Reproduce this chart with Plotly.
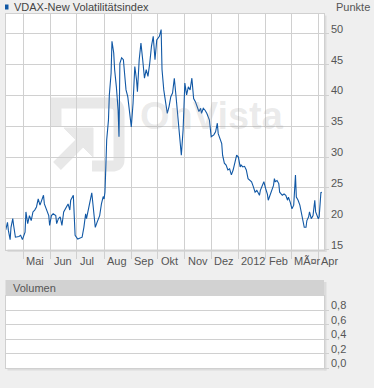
import plotly.graph_objects as go

# ---------------- data ----------------
dates = [
    "2011-04-11", "2011-04-13", "2011-04-14", "2011-04-16", "2011-04-17", "2011-04-19", "2011-04-20",
    "2011-04-22", "2011-04-26", "2011-04-28", "2011-04-30", "2011-05-03", "2011-05-04", "2011-05-06",
    "2011-05-08", "2011-05-10", "2011-05-12", "2011-05-14", "2011-05-16", "2011-05-18", "2011-05-20",
    "2011-05-22", "2011-05-24", "2011-05-25", "2011-05-28", "2011-05-30", "2011-05-31", "2011-06-02",
    "2011-06-04", "2011-06-07", "2011-06-08", "2011-06-10", "2011-06-12", "2011-06-14", "2011-06-16",
    "2011-06-19", "2011-06-21", "2011-06-23", "2011-06-24", "2011-06-27", "2011-06-28", "2011-06-29",
    "2011-07-02", "2011-07-05", "2011-07-07", "2011-07-09", "2011-07-11", "2011-07-12", "2011-07-14",
    "2011-07-16", "2011-07-18", "2011-07-20", "2011-07-22", "2011-07-24", "2011-07-27", "2011-07-29",
    "2011-07-31", "2011-08-01", "2011-08-02", "2011-08-03", "2011-08-04", "2011-08-06", "2011-08-07",
    "2011-08-09", "2011-08-10", "2011-08-12", "2011-08-13", "2011-08-15", "2011-08-17", "2011-08-18",
    "2011-08-19", "2011-08-21", "2011-08-23", "2011-08-25", "2011-08-26", "2011-08-28", "2011-08-30",
    "2011-09-01", "2011-09-03", "2011-09-05", "2011-09-07", "2011-09-08", "2011-09-10", "2011-09-12",
    "2011-09-14", "2011-09-16", "2011-09-18", "2011-09-20", "2011-09-22", "2011-09-24", "2011-09-26",
    "2011-09-27", "2011-09-28", "2011-09-30", "2011-10-03", "2011-10-05", "2011-10-06", "2011-10-08",
    "2011-10-10", "2011-10-12", "2011-10-14", "2011-10-16", "2011-10-18", "2011-10-20", "2011-10-22",
    "2011-10-24", "2011-10-26", "2011-10-28", "2011-10-30", "2011-11-01", "2011-11-03", "2011-11-05",
    "2011-11-07", "2011-11-09", "2011-11-11", "2011-11-13", "2011-11-15", "2011-11-17", "2011-11-19",
    "2011-11-20", "2011-11-22", "2011-11-24", "2011-11-26", "2011-11-29", "2011-12-01", "2011-12-04",
    "2011-12-06", "2011-12-08", "2011-12-09", "2011-12-11", "2011-12-13", "2011-12-14", "2011-12-16",
    "2011-12-18", "2011-12-20", "2011-12-22", "2011-12-24", "2011-12-26", "2011-12-28", "2011-12-30",
    "2012-01-01", "2012-01-03", "2012-01-04", "2012-01-06", "2012-01-08", "2012-01-10", "2012-01-12",
    "2012-01-14", "2012-01-16", "2012-01-18", "2012-01-20", "2012-01-22", "2012-01-23", "2012-01-25",
    "2012-01-26", "2012-01-28", "2012-01-30", "2012-02-01", "2012-02-03", "2012-02-04", "2012-02-06",
    "2012-02-08", "2012-02-10", "2012-02-11", "2012-02-12", "2012-02-14", "2012-02-16", "2012-02-17",
    "2012-02-20", "2012-02-22", "2012-02-24", "2012-02-26", "2012-02-27", "2012-02-29", "2012-03-02",
    "2012-03-04", "2012-03-05", "2012-03-06", "2012-03-07", "2012-03-09", "2012-03-11", "2012-03-13",
    "2012-03-15", "2012-03-16", "2012-03-18", "2012-03-19", "2012-03-21", "2012-03-22", "2012-03-24",
    "2012-03-26", "2012-03-28", "2012-03-29", "2012-04-01", "2012-04-02", "2012-04-04", "2012-04-05",
]
vdax = [
    18.2, 19.4, 18.1, 16.6, 18.6, 20.0, 18.9,
    17.0, 17.1, 17.3, 16.6, 17.8, 21.1, 19.2,
    20.5, 19.7, 21.1, 21.4, 21.9, 23.2, 22.2,
    23.2, 23.8, 22.4, 21.1, 20.5, 18.9, 20.5,
    20.8, 20.5, 19.2, 20.0, 20.3, 18.9, 21.1,
    21.9, 22.4, 21.4, 23.0, 23.8, 20.3, 17.3,
    16.7, 16.9, 17.0, 18.6, 20.8, 20.0, 21.6,
    22.7, 24.2, 21.4, 18.6, 19.4, 20.5, 22.4,
    23.6, 23.2, 24.3, 28.4, 32.8, 36.0, 40.1,
    43.6, 48.8, 46.9, 44.2, 41.4, 37.6, 33.3,
    45.2, 46.1, 45.8, 42.5, 40.9, 39.8, 37.1,
    34.9, 38.7, 44.7, 42.5, 40.6, 45.8, 48.5,
    45.8, 42.8, 44.2, 43.1, 45.2, 48.0, 49.6,
    48.0, 45.8, 49.0, 49.6, 50.7, 44.2, 40.9,
    39.3, 37.1, 38.2, 39.8, 40.4, 42.8, 39.8,
    36.5, 33.3, 30.3, 34.4, 42.0, 40.1, 41.4,
    40.9, 42.8, 39.5, 39.0, 38.2, 37.4, 37.9,
    37.1, 37.9, 37.6, 37.1, 36.0, 33.3, 33.6,
    34.1, 35.5, 33.8, 33.0, 32.2, 30.3, 29.0,
    28.7, 27.9, 28.1, 27.1, 27.9, 29.2, 30.3,
    30.0, 28.4, 28.7, 28.4, 28.5, 27.9, 26.5,
    26.2, 26.0, 25.2, 24.3, 24.6, 24.3, 23.8,
    24.6, 25.4, 26.0, 24.9, 24.0, 23.0, 23.8,
    24.6, 25.4, 26.5, 26.0, 26.2, 25.7, 24.3,
    23.8, 24.0, 23.8, 23.0, 23.5, 22.7, 21.6,
    22.2, 24.6, 27.1, 23.5, 23.0, 22.2, 20.5,
    19.2, 18.6, 18.6, 19.7, 20.3, 21.1, 20.0,
    20.5, 23.0, 21.1, 20.0, 20.3, 24.3, 24.2,
]
month_ticks = ["2011-05-01", "2011-06-01", "2011-07-01", "2011-08-01", "2011-09-01", "2011-10-01",
               "2011-11-01", "2011-12-01", "2012-01-01", "2012-02-01", "2012-03-01", "2012-04-01"]
month_labels = ["Mai", "Jun", "Jul", "Aug", "Sep", "Okt", "Nov", "Dez", "2012", "Feb", "MÃ¤r", "Apr"]
y_ticks = [15, 20, 25, 30, 35, 40, 45, 50]
y_labels = ["15", "20", "25", "30", "35", "40", "45", "50"]
vol_ticks = [0.0, 0.2, 0.4, 0.6, 0.8]
vol_labels = ["0,0", "0,2", "0,4", "0,6", "0,8"]
title_text = "VDAX-New Volatilitätsindex"
unit_text = "Punkte"
volume_text = "Volumen"

# ---------------- layout helpers ----------------
W, H = 374, 388
def px(x):
    return x / W
def py(y):
    return 1 - y / H

PLOT_L, PLOT_R = 5.5, 324.0
MAIN_T, MAIN_B = 13.5, 249.5
VOL_T, VOL_B = 296.0, 368.0
HDR_T = 280.0

LINE = "#1158a5"
GRID = "#d0d0d0"
TXT = "#555555"
FONT = "Liberation Sans, Arial, sans-serif"
x_range = ["2011-04-10 17:30", "2012-04-07 12:00"]

fig = go.Figure()
fig.add_trace(go.Scatter(x=dates, y=vdax, mode="lines",
                         line=dict(color=LINE, width=1.1), xaxis="x", yaxis="y",
                         hoverinfo="skip", showlegend=False))
fig.add_trace(go.Scatter(x=[], y=[], xaxis="x2", yaxis="y2", showlegend=False))

common_x = dict(type="date", range=x_range, domain=[px(PLOT_L), px(PLOT_R)],
                showticklabels=False, zeroline=False, showline=True, mirror=True,
                linecolor=GRID, linewidth=1, fixedrange=True)

fig.update_layout(
    width=W, height=H, autosize=False,
    margin=dict(l=0, r=0, t=0, b=0),
    paper_bgcolor="#efefef", plot_bgcolor="#ffffff",
    font=dict(family=FONT, size=11, color=TXT),
    showlegend=False,
    xaxis=dict(**common_x, anchor="y", showgrid=True, gridcolor=GRID, gridwidth=1,
               tickmode="array", tickvals=month_ticks, ticks="outside", ticklen=8,
               tickcolor=GRID, tickwidth=1),
    yaxis=dict(domain=[py(MAIN_B), py(MAIN_T)], range=[15, 53.3], anchor="x", side="right",
               tickmode="array", tickvals=y_ticks, ticks="outside", ticklen=4, tickcolor=GRID,
               showgrid=True, gridcolor=GRID, gridwidth=1, zeroline=False,
               showline=True, mirror=True, linecolor=GRID,
               showticklabels=False, fixedrange=True),
    xaxis2=dict(**common_x, anchor="y2", showgrid=False, ticks=""),
    yaxis2=dict(domain=[py(VOL_B), py(VOL_T)], range=[0, 1], anchor="x2", side="right",
                tickmode="array", tickvals=vol_ticks,
                ticks="outside", ticklen=4, tickcolor=GRID,
                showgrid=True, gridcolor=GRID, gridwidth=1, zeroline=False,
                showline=True, mirror=True, linecolor=GRID,
                showticklabels=False, fixedrange=True),
)

shapes = []
# drop shadows
SH = "#dcdcdc"
for top, bot in [(MAIN_T, MAIN_B), (HDR_T, VOL_B)]:
    shapes.append(dict(type="rect", xref="paper", yref="paper", layer="below",
                       x0=px(PLOT_R), x1=px(PLOT_R + 2.5), y0=py(bot + 2.5), y1=py(top + 2),
                       fillcolor=SH, line=dict(width=0)))
    shapes.append(dict(type="rect", xref="paper", yref="paper", layer="below",
                       x0=px(PLOT_L + 2), x1=px(PLOT_R + 2.5), y0=py(bot + 2.5), y1=py(bot),
                       fillcolor=SH, line=dict(width=0)))
# volume header bar
shapes.append(dict(type="rect", xref="paper", yref="paper", layer="above",
                   x0=px(PLOT_L), x1=px(PLOT_R), y0=py(VOL_T), y1=py(HDR_T),
                   fillcolor="#d2d2d2", line=dict(width=0)))
# title marker square
shapes.append(dict(type="rect", xref="paper", yref="paper",
                   x0=px(5), x1=px(8.5), y0=py(9.5), y1=py(4.5),
                   fillcolor=LINE, line=dict(width=0)))

# faint watermark logo
WM = "#e8e8e8"
def path(pts, cmd_close=False):
    s = ""
    for c, coords in pts:
        s += c + " " + " ".join(f"{px(coords[k]):.4f},{py(coords[k+1]):.4f}" for k in range(0, len(coords), 2)) + " "
    if cmd_close:
        s += "Z"
    return s
frame = path([("M", (56, 126)), ("L", (56, 103)), ("L", (110, 103)), ("Q", (119, 103, 119, 112)),
              ("L", (119, 160)), ("Q", (119, 166, 112, 166)), ("L", (92, 166))])
shapes.append(dict(type="path", xref="paper", yref="paper", layer="below", path=frame,
                   line=dict(color=WM, width=11)))
arrow = path([("M", (57, 166)), ("L", (84, 139))])
shapes.append(dict(type="path", xref="paper", yref="paper", layer="below", path=arrow,
                   line=dict(color=WM, width=11)))
head = path([("M", (64, 128)), ("L", (93, 128)), ("L", (93, 157))], cmd_close=True)
shapes.append(dict(type="path", xref="paper", yref="paper", layer="below", path=head,
                   fillcolor=WM, line=dict(color=WM, width=1)))
fig.update_layout(shapes=shapes)

ann = []
ann.append(dict(text=title_text, xref="paper", yref="paper", x=px(11.5), y=py(6.5),
                xanchor="left", yanchor="middle", showarrow=False,
                font=dict(family=FONT, size=11, color="#444444")))
ann.append(dict(text=unit_text, xref="paper", yref="paper", x=px(334), y=py(6.5),
                xanchor="left", yanchor="middle", showarrow=False,
                font=dict(family=FONT, size=11, color=TXT)))
ann.append(dict(text=volume_text, xref="paper", yref="paper", x=px(11), y=py(288),
                xanchor="left", yanchor="middle", showarrow=False,
                font=dict(family=FONT, size=11, color=TXT)))
ann.append(dict(text="<b>OnVista</b>", xref="paper", yref="paper", x=px(212), y=py(116),
                xanchor="center", yanchor="middle", showarrow=False,
                font=dict(family=FONT, size=38, color="rgba(150,150,150,0.2)")))
for d, lab in zip(month_ticks, month_labels):
    ann.append(dict(text=lab, xref="x", yref="paper", x=d, y=py(261),
                    xanchor="left", yanchor="middle", xshift=1, showarrow=False,
                    font=dict(family=FONT, size=11, color=TXT)))
# right-hand value labels, sitting just above their grid lines
for v, lab in zip(y_ticks, y_labels):
    ann.append(dict(text=lab, xref="paper", yref="y", x=px(328.5), y=v,
                    xanchor="left", yanchor="middle", yshift=5, showarrow=False,
                    font=dict(family=FONT, size=11, color=TXT)))
for v, lab in zip(vol_ticks, vol_labels):
    ann.append(dict(text=lab, xref="paper", yref="y2", x=px(328.5), y=v,
                    xanchor="left", yanchor="middle", yshift=5, showarrow=False,
                    font=dict(family=FONT, size=11, color=TXT)))
fig.update_layout(annotations=ann)

fig.write_html("out.html", config={"displayModeBar": False},
               post_script="document.body.style.margin='0';document.body.style.overflow='hidden';")
